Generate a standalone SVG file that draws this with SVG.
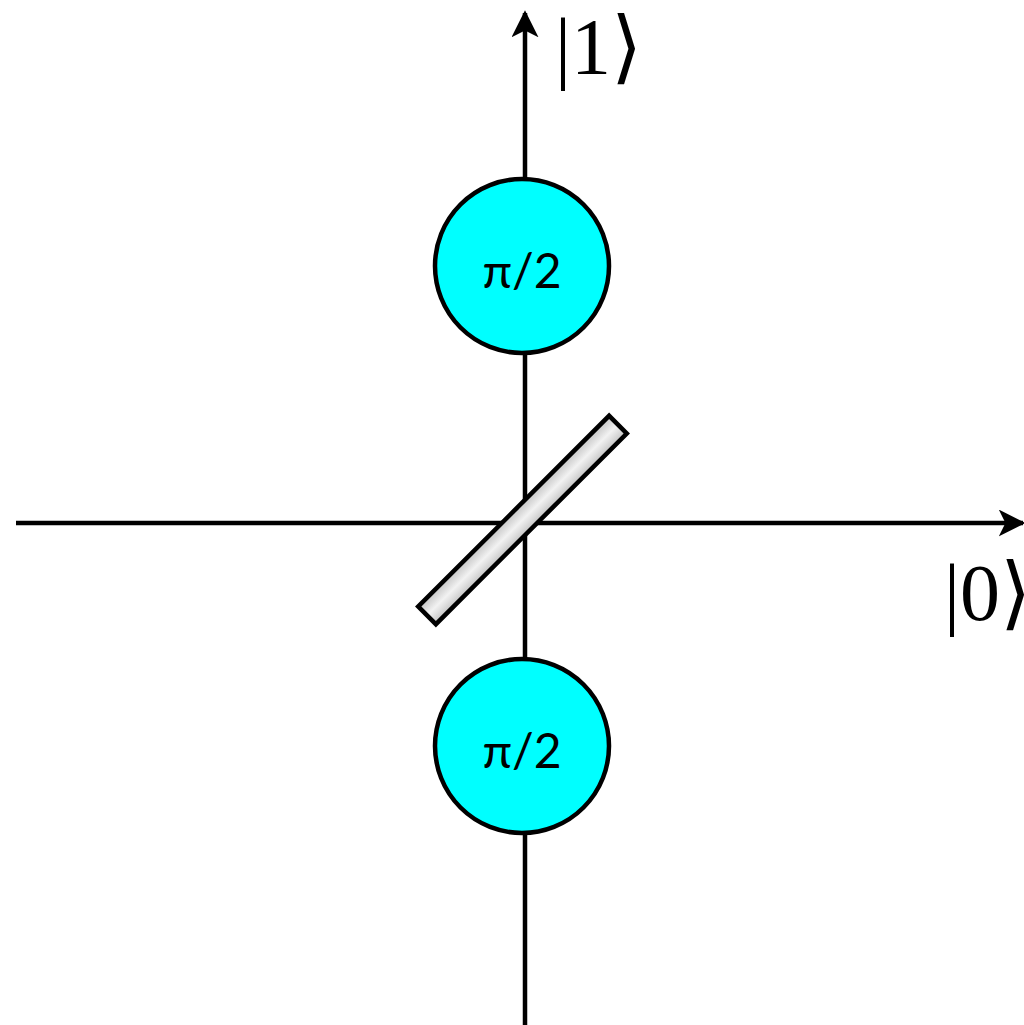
<svg xmlns="http://www.w3.org/2000/svg" width="1024" height="1025" viewBox="0 0 1024 1025">
<style>
.axis{stroke:#000;stroke-width:4.5;fill:none}
.node circle{fill:#00ffff;stroke:#000;stroke-width:4.5}
.node text{font-family:Lato,"Open Sans",sans-serif;font-size:48px;text-anchor:middle;fill:#000}
.ket{font-family:"Liberation Serif","DejaVu Serif",serif;font-size:80px;fill:#000}
</style>
<defs>
<marker id="ah" viewBox="0 0 10 10" refX="9" refY="5" markerWidth="6" markerHeight="6" markerUnits="strokeWidth" orient="auto">
<path d="M0,0 L10,5 L0,10 L2.5,5 Z" fill="#000"/>
</marker>
<linearGradient id="g" x1="0" y1="0" x2="0" y2="1">
<stop offset="0" stop-color="#c4c4c4"/>
<stop offset="0.5" stop-color="#f2f2f2"/>
<stop offset="1" stop-color="#c4c4c4"/>
</linearGradient>
</defs>
<g id="connectors">
<line class="axis" x1="525" y1="1025" x2="525" y2="13" marker-end="url(#ah)"/>
<line class="axis" x1="16" y1="523" x2="1023" y2="523" marker-end="url(#ah)"/>
</g>
<g id="beamsplitter">
<rect x="-135" y="-12.5" width="270" height="25" fill="url(#g)" stroke="#000" stroke-width="4.5" transform="translate(522.5,520) rotate(-45)"/>
</g>
<g id="phase1" class="node">
<circle cx="522" cy="266" r="87"/>
<text x="522" y="288">π/2</text>
</g>
<g id="phase2" class="node">
<circle cx="522" cy="746" r="87"/>
<text x="522" y="768">π/2</text>
</g>
<g id="label1"><text class="ket" x="555" y="74">|1⟩</text></g>
<g id="label0"><text class="ket" x="944" y="620">|0⟩</text></g>
</svg>
